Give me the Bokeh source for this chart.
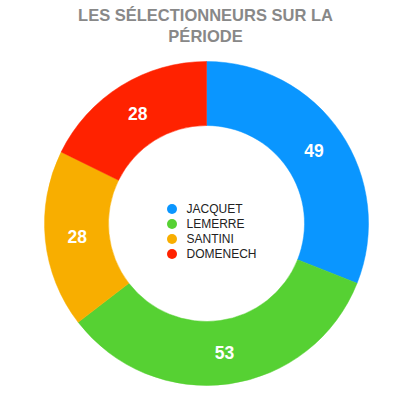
import math
from bokeh.plotting import figure
from bokeh.models import Range1d, ColumnDataSource
from bokeh.core.properties import value
from bokeh.embed import file_html
from bokeh.resources import INLINE

title_lines = ["LES SÉLECTIONNEURS SUR LA", "PÉRIODE"]
names = ["JACQUET", "LEMERRE", "SANTINI", "DOMENECH"]
counts = [49, 53, 28, 28]
colors = ["#0A96FF", "#56D133", "#F8AE00", "#FF2200"]

W, H = 400, 393
cx, cy = 206, H - 223
r_out, r_in = 162, 98

total = sum(counts)
starts, ends, lx, ly = [], [], [], []
acc = 0.0
for c in counts:
    a0 = acc / total * 2 * math.pi
    acc += c
    a1 = acc / total * 2 * math.pi
    starts.append(math.pi / 2 - a0)
    ends.append(math.pi / 2 - a1)
    mid = (a0 + a1) / 2
    rm = (r_out + r_in) / 2
    lx.append(cx + rm * math.sin(mid))
    ly.append(cy + rm * math.cos(mid))

p = figure(width=W, height=H, output_backend="svg", toolbar_location=None,
           x_range=Range1d(0, W), y_range=Range1d(0, H), min_border=0)
p.axis.visible = False
p.grid.visible = False
p.outline_line_color = None
p.background_fill_color = "white"
p.border_fill_color = "white"

src = ColumnDataSource(dict(start=starts, end=ends, color=colors, x=lx, y=ly,
                            label=[str(c) for c in counts]))
p.annular_wedge(x=cx, y=cy, inner_radius=r_in, outer_radius=r_out,
                inner_radius_units="screen", outer_radius_units="screen",
                start_angle="start", end_angle="end", direction="clock",
                fill_color="color", line_color="color", line_width=0.5, source=src)
p.text(x="x", y="y", text="label", source=src, text_color="white",
       text_font=value("Liberation Sans"), text_font_style="bold",
       text_font_size="17.5px", text_align="center", text_baseline="middle")

# title
p.text(x=[205] * len(title_lines), y=[H - 14 - 21 * i for i in range(len(title_lines))],
       text=title_lines, text_color="#888888", text_font=value("Liberation Sans"),
       text_font_style="bold", text_font_size="16.5px", text_align="center",
       text_baseline="middle")

# legend
leg_y = [H - 208.5 - 15 * i for i in range(len(names))]
p.scatter(x=[171.5] * len(names), y=leg_y, size=10, marker="circle",
          fill_color=colors, line_color=None)
p.text(x=[186] * len(names), y=leg_y, text=names, text_color="#222222",
       text_font=value("Liberation Sans"), text_font_size="12px",
       text_align="left", text_baseline="middle")

open("out.html", "w").write(file_html(p, INLINE))
